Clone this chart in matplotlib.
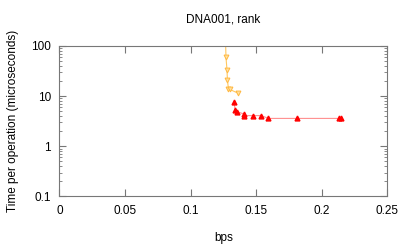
import matplotlib
matplotlib.use("Agg")
import matplotlib.pyplot as plt
from matplotlib.ticker import LogLocator, FixedLocator, NullFormatter

plt.rcParams['font.family'] = ['Liberation Sans', 'DejaVu Sans']

# orange series (down triangles)
orange_x = [0.1265, 0.1270, 0.1278, 0.1281, 0.1289, 0.1300, 0.1358]
orange_y = [200.0, 60.0, 33.0, 21.0, 13.9, 13.6, 11.6]
# red series (up triangles)
red_x = [0.1331, 0.1341, 0.1356, 0.1407, 0.1410, 0.1474, 0.1540, 0.1593, 0.1810, 0.2132, 0.2145]
red_y = [7.5, 5.3, 4.9, 4.4, 4.1, 4.1, 4.1, 3.6, 3.6, 3.6, 3.6]

xticks = [0, 0.05, 0.1, 0.15, 0.2, 0.25]
xticklabels = ['0', '0.05', '0.1', '0.15', '0.2', '0.25']
yticks = [0.1, 1, 10, 100]
yticklabels = ['0.1', '1', '10', '100']

fig = plt.figure(figsize=(4.07, 2.44), dpi=100)
ax = fig.add_axes([0.146, 0.1947, 0.8055, 0.6168])

ax.plot(orange_x, orange_y, color='#ffc860', lw=0.8, zorder=2)
ax.plot(orange_x, orange_y, ls='none', marker='v', ms=3.5, mfc='#ffe0a0',
        mec='#ffb840', mew=0.7, zorder=3)
ax.plot(red_x, red_y, color='#ff9090', lw=0.8, zorder=2)
ax.plot(red_x, red_y, ls='none', marker='^', ms=3.5, color='#ff0000', zorder=3)

ax.set_xlim(0, 0.25)
ax.set_yscale('log')
ax.set_ylim(0.1, 100)
ax.xaxis.set_major_locator(FixedLocator(xticks))
ax.set_xticklabels(xticklabels)
ax.yaxis.set_major_locator(FixedLocator(yticks))
ax.set_yticklabels(yticklabels)
ax.yaxis.set_minor_locator(LogLocator(base=10, subs=range(2, 10), numticks=20))
ax.yaxis.set_minor_formatter(NullFormatter())

for s in ax.spines.values():
    s.set_color('#777777')
    s.set_linewidth(0.8)
ax.tick_params(which='both', direction='in', top=True, right=True,
               colors='#777777', labelcolor='black', labelsize=8.5)
ax.tick_params(which='major', length=5, width=0.8, pad=6)
ax.tick_params(which='minor', length=2.5, width=0.6)

ax.set_title('DNA001, rank', fontsize=8.5, pad=17)
ax.set_xlabel('bps', fontsize=8.5, labelpad=11)
ax.set_ylabel('Time per operation (microseconds)', fontsize=8.5, labelpad=9)

fig.savefig('out.png', dpi=100)
